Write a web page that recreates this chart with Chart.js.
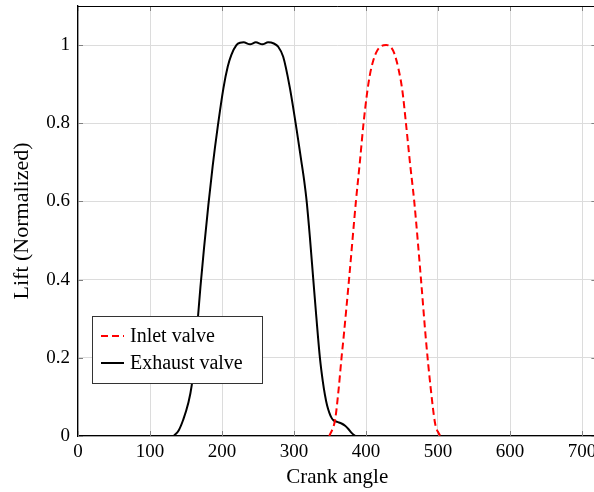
<!DOCTYPE html>
<html><head><meta charset="utf-8">
<script src="https://cdn.jsdelivr.net/npm/chart.js@4/dist/chart.umd.min.js"></script>
<style>html,body{margin:0;padding:0;overflow:hidden;background:#fff;width:594px;height:492px}
canvas{display:block}</style></head>
<body><canvas id="c" width="600" height="492"></canvas>
<script>
const exhaustAngle = [133, 140, 146, 153, 158, 162, 166, 170, 175, 181, 187, 194, 202, 208, 213, 220, 225, 230, 239, 247, 256, 264, 272, 278, 285, 294, 303.7, 310, 314, 317.6, 322, 326.8, 331, 336, 340, 343, 346, 349, 352, 355, 360, 366, 371, 375.5, 380, 385];
const exhaustLift  = [0, 0.015, 0.041, 0.083, 0.13, 0.2, 0.29, 0.38, 0.48, 0.59, 0.69, 0.79, 0.89, 0.945, 0.975, 1.0, 1.006, 1.007, 1.002, 1.007, 1.002, 1.007, 1.004, 0.996, 0.97, 0.893, 0.783, 0.705, 0.655, 0.6, 0.51, 0.4, 0.305, 0.2, 0.14, 0.105, 0.078, 0.06, 0.047, 0.04, 0.036, 0.032, 0.026, 0.018, 0.008, 0];
const inletAngle = [349, 357, 362, 366, 368.5, 376.4, 386, 391.7, 396.3, 401, 405, 410, 415, 421, 428, 434, 439, 445, 450.4, 455.5, 461, 467, 476.4, 483.3, 490, 496, 503];
const inletLift  = [0, 0.041, 0.12, 0.2, 0.245, 0.4, 0.6, 0.705, 0.795, 0.87, 0.92, 0.96, 0.984, 0.997, 1.0, 0.996, 0.98, 0.94, 0.885, 0.80, 0.70, 0.6, 0.4, 0.245, 0.12, 0.032, 0];
const xTicks = [0, 100, 200, 300, 400, 500, 600, 700];
const yTicks = [0, 0.2, 0.4, 0.6, 0.8, 1];
const yTickLabels = ['0', '0.2', '0.4', '0.6', '0.8', '1'];
const seriesLabels = ['Inlet valve', 'Exhaust valve'];
const xTitle = 'Crank angle';
const yTitle = 'Lift (Normalized)';

const FONT = "'Liberation Serif', 'Times New Roman', serif";
const toXY = (xs, ys) => xs.map((x, i) => ({x: x, y: ys[i]}));

const framePlugin = {
  id: 'frame',
  beforeDatasetsDraw(chart) {
    const {ctx, chartArea: a, scales: {x, y}} = chart;
    ctx.save();
    ctx.strokeStyle = '#808080';
    ctx.lineWidth = 1;
    ctx.beginPath();
    xTicks.forEach(v => {
      const px = Math.round(x.getPixelForValue(v)) + 0.5;
      ctx.moveTo(px, a.bottom); ctx.lineTo(px, a.bottom - 5);
      ctx.moveTo(px, a.top); ctx.lineTo(px, a.top + 5);
    });
    yTicks.forEach(v => {
      const py = Math.round(y.getPixelForValue(v)) + 0.5;
      ctx.moveTo(a.left, py); ctx.lineTo(a.left + 5, py);
      ctx.moveTo(a.right, py); ctx.lineTo(a.right - 5, py);
    });
    ctx.stroke();
    ctx.restore();
  },
  afterDatasetsDraw(chart) {
    const {ctx, chartArea: a} = chart;
    ctx.save();
    ctx.strokeStyle = '#000';
    ctx.lineWidth = 1;
    ctx.beginPath();
    ctx.moveTo(a.left, a.top + 0.5); ctx.lineTo(a.right, a.top + 0.5);
    ctx.moveTo(a.right - 0.5, a.top); ctx.lineTo(a.right - 0.5, a.bottom);
    ctx.stroke();
    // legend
    const bx = 92.5, by = 316.5, bw = 170, bh = 67;
    ctx.fillStyle = '#fff';
    ctx.fillRect(bx, by, bw, bh);
    ctx.strokeStyle = '#333';
    ctx.strokeRect(bx, by, bw, bh);
    const ds = chart.data.datasets;
    const rows = [336, 363];
    ds.forEach((d, i) => {
      ctx.beginPath();
      ctx.strokeStyle = d.borderColor;
      ctx.lineWidth = d.borderWidth;
      ctx.setLineDash(d.borderDash || []);
      ctx.moveTo(101, rows[i]); ctx.lineTo(124, rows[i]);
      ctx.stroke();
      ctx.setLineDash([]);
      ctx.fillStyle = '#000';
      ctx.font = '20px ' + FONT;
      ctx.textBaseline = 'middle';
      ctx.textAlign = 'left';
      ctx.fillText(d.label, 130, rows[i] + 1);
    });
    ctx.restore();
  }
};

new Chart(document.getElementById('c'), {
  type: 'line',
  data: {
    datasets: [
      {label: seriesLabels[0], data: toXY(inletAngle, inletLift), borderColor: '#ff0000', borderWidth: 2, borderDash: [7, 4], pointRadius: 0, fill: false, cubicInterpolationMode: 'monotone'},
      {label: seriesLabels[1], data: toXY(exhaustAngle, exhaustLift), borderColor: '#000000', borderWidth: 2, pointRadius: 0, fill: false, cubicInterpolationMode: 'monotone'}
    ]
  },
  options: {
    responsive: false,
    devicePixelRatio: 1,
    animation: false,
    events: [],
    layout: {padding: {top: 6, right: 3.6, left: 0, bottom: 0}},
    plugins: {legend: {display: false}, tooltip: {enabled: false}},
    scales: {
      x: {
        type: 'linear', min: 0, max: 720,
        afterBuildTicks: s => { s.ticks = xTicks.map(v => ({value: v})); },
        afterFit: s => { s.height = 56; s.paddingLeft = 0; s.paddingRight = 0; },
        grid: {color: '#dcdcdc', lineWidth: 1, drawTicks: false},
        border: {color: '#000', width: 1.3},
        ticks: {padding: 5, color: '#000', font: {family: FONT, size: 19}, maxRotation: 0, autoSkip: false, callback: v => String(v)},
        title: {display: true, text: xTitle, color: '#000', font: {family: FONT, size: 21}, padding: {top: 0, bottom: 2}}
      },
      y: {
        type: 'linear', min: 0, max: 1.1,
        afterBuildTicks: s => { s.ticks = yTicks.map(v => ({value: v})); },
        afterFit: s => { s.width = 78; s.paddingTop = 0; s.paddingBottom = 0; },
        grid: {color: '#dcdcdc', lineWidth: 1, drawTicks: false},
        border: {color: '#000', width: 1.3},
        ticks: {padding: 8, color: '#000', font: {family: FONT, size: 19}, autoSkip: false, callback: (v) => yTickLabels[yTicks.indexOf(v)] ?? ''},
        title: {display: true, text: yTitle, color: '#000', font: {family: FONT, size: 22}, padding: {top: 9, bottom: 0}}
      }
    }
  },
  plugins: [framePlugin]
});
</script>
</body></html>
